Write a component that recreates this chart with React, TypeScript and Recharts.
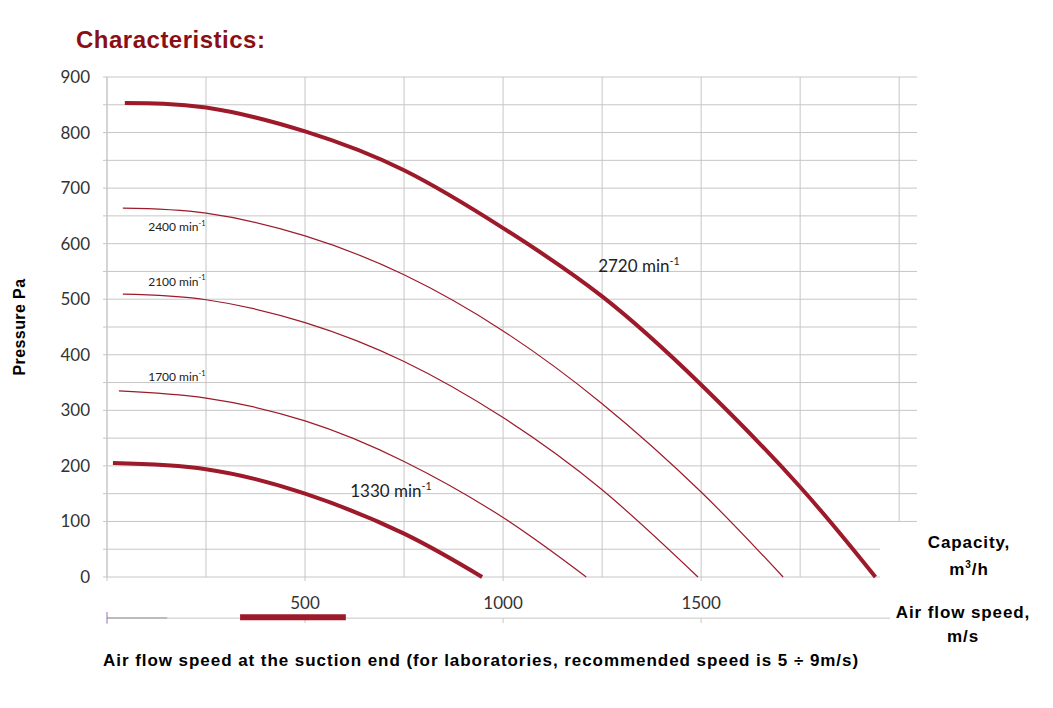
import { LineChart, Line, XAxis, YAxis, CartesianGrid, ReferenceLine, ReferenceDot } from "recharts";

// capacity m3/h vs pressure Pa, one curve per fan speed
const rpm2720 = [
  { x: 45, y: 853 }, { x: 250, y: 845 }, { x: 500, y: 802 }, { x: 750, y: 732 },
  { x: 1000, y: 628 }, { x: 1250, y: 505 }, { x: 1500, y: 346 }, { x: 1750, y: 162 }, { x: 1940, y: 0 },
];
const rpm2400 = [
  { x: 40, y: 664 }, { x: 250, y: 655 }, { x: 500, y: 614 }, { x: 750, y: 544 }, { x: 1000, y: 443 },
  { x: 1250, y: 312 }, { x: 1500, y: 153 }, { x: 1707, y: 0 },
];
const rpm2100 = [
  { x: 40, y: 509 }, { x: 250, y: 499 }, { x: 500, y: 458 }, { x: 750, y: 388 }, { x: 1000, y: 287 },
  { x: 1250, y: 157 }, { x: 1492, y: 0 },
];
const rpm1700 = [
  { x: 30, y: 335 }, { x: 250, y: 322 }, { x: 500, y: 281 }, { x: 750, y: 208 }, { x: 1000, y: 107 },
  { x: 1210, y: 0 },
];
const rpm1330 = [
  { x: 15, y: 205 }, { x: 250, y: 194 }, { x: 500, y: 150 }, { x: 750, y: 78 }, { x: 947, y: 0 },
];

const curveLabels = [
  { text: "2720", x: 1240, y: 556, size: 17 },
  { text: "2400", x: 104, y: 628, size: 12 },
  { text: "2100", x: 104, y: 530, size: 12 },
  { text: "1700", x: 104, y: 358, size: 12 },
  { text: "1330", x: 614, y: 151, size: 17 },
];

const yTicks = [0, 50, 100, 150, 200, 250, 300, 350, 400, 450, 500, 550, 600, 650, 700, 750, 800, 850, 900];
const gridY = [100, 150, 200, 250, 300, 350, 400, 450, 500, 550, 600, 650, 700, 750, 800, 850, 900];
const gridX = [0, 250, 500, 750, 1000, 1250, 1500, 1750];
const xTicks = [0, 500, 1000, 1500];
// second (air speed) axis, drawn below the capacity labels
const speedAxisY = -74;
const speedAxisEnd = 1977;
const recommendedRange = [336, 603];

const RED = "#9d1a2b";
const GRID = "#c6c6c6";

const curves = [
  { name: "2720", data: rpm2720, w: 4 },
  { name: "2400", data: rpm2400, w: 1.2 },
  { name: "2100", data: rpm2100, w: 1.2 },
  { name: "1700", data: rpm1700, w: 1.2 },
  { name: "1330", data: rpm1330, w: 4 },
];

const boldText = {
  fontFamily: "'Liberation Sans', Arial, sans-serif",
  fontWeight: 700,
  color: "#000",
  fontSize: 17,
  letterSpacing: "0.9px",
  whiteSpace: "nowrap" as const,
};

export default function App() {
  return (
    <div style={{ position: "absolute", left: 0, top: 0, width: 1053, height: 708, background: "#fff" }}>
      <div style={{ ...boldText, position: "absolute", left: 76, top: 28, fontSize: 24, lineHeight: "24px", letterSpacing: "0.5px", color: "#8a0f14" }}>
        Characteristics:
      </div>
      <LineChart width={1053} height={708} data={rpm2720} margin={{ top: 77, right: 136, bottom: 101, left: 47 }}>
        <CartesianGrid stroke={GRID} horizontalValues={gridY} verticalValues={gridX} />
        <XAxis
          dataKey="x"
          type="number"
          domain={[0, 2045]}
          ticks={xTicks}
          height={30}
          axisLine={false}
          tickSize={4}
          tickMargin={16}
          tickLine={{ stroke: GRID }}
          tick={{ fill: "#333", fontSize: 17, fontFamily: "Lato" }}
          tickFormatter={(v) => (v === 0 ? "" : String(v))}
        />
        <YAxis
          dataKey="y"
          type="number"
          domain={[0, 900]}
          ticks={yTicks}
          width={60}
          axisLine={{ stroke: GRID }}
          tickSize={4}
          tickMargin={13}
          tickLine={{ stroke: GRID }}
          tick={{ fill: "#333", fontSize: 17, fontFamily: "Lato" }}
          tickFormatter={(v) => (v % 100 === 0 ? String(v) : "")}
        />
        <ReferenceLine segment={[{ x: 0, y: 0 }, { x: 1952, y: 0 }]} stroke={GRID} />
        <ReferenceLine segment={[{ x: 0, y: 50 }, { x: 1952, y: 50 }]} stroke={GRID} />
        <ReferenceLine segment={[{ x: 2000, y: 100 }, { x: 2000, y: 900 }]} stroke={GRID} />

        <ReferenceLine ifOverflow="visible" segment={[{ x: 0, y: speedAxisY }, { x: speedAxisEnd, y: speedAxisY }]} stroke={GRID} />
        <ReferenceLine ifOverflow="visible" segment={[{ x: 0, y: speedAxisY }, { x: 152, y: speedAxisY }]} stroke="#bbb" strokeWidth={2} />
        <ReferenceLine ifOverflow="visible" segment={[{ x: 0, y: -63 }, { x: 0, y: -84 }]} stroke="#9b6fb0" />
        {xTicks.slice(1).map((t) => (
          <ReferenceLine key={t} ifOverflow="visible" segment={[{ x: t, y: speedAxisY }, { x: t, y: speedAxisY - 9 }]} stroke={GRID} />
        ))}
        <ReferenceLine
          ifOverflow="visible"
          segment={[{ x: recommendedRange[0], y: speedAxisY + 1.5 }, { x: recommendedRange[1], y: speedAxisY + 1.5 }]}
          stroke={RED}
          strokeWidth={6}
        />

        {curves.map((c) => (
          <Line
            key={c.name}
            data={c.data}
            dataKey="y"
            type="natural"
            stroke={RED}
            strokeWidth={c.w}
            dot={false}
            activeDot={false}
            isAnimationActive={false}
          />
        ))}

        {curveLabels.map((l) => (
          <ReferenceDot
            key={l.text}
            x={l.x}
            y={l.y}
            r={1}
            shape={(p: any) => (
              <text x={p.cx} y={p.cy} dominantBaseline="middle" fontFamily="Lato" fontSize={l.size} fill="#222">
                {l.text} min
                <tspan fontSize={l.size * 0.62} dy={-l.size * 0.38}>-1</tspan>
              </text>
            )}
          />
        ))}
      </LineChart>

      <div style={{ ...boldText, position: "absolute", left: 20, top: 327, fontSize: 16, letterSpacing: "0.4px", transform: "translate(-50%, -50%) rotate(-90deg)" }}>
        Pressure Pa
      </div>
      <div style={{ ...boldText, position: "absolute", left: 969, top: 532, lineHeight: "22px", textAlign: "center", transform: "translateX(-50%)" }}>
        Capacity,
        <br />
        m<sup style={{ fontSize: 10 }}>3</sup>/h
      </div>
      <div style={{ ...boldText, position: "absolute", left: 963, top: 601, lineHeight: "24px", textAlign: "center", transform: "translateX(-50%)" }}>
        Air flow speed,
        <br />
        m/s
      </div>
      <div style={{ ...boldText, position: "absolute", left: 103, top: 652, lineHeight: "17px", letterSpacing: "0.95px" }}>
        Air flow speed at the suction end (for laboratories, recommended speed is 5 ÷ 9m/s)
      </div>
    </div>
  );
}
